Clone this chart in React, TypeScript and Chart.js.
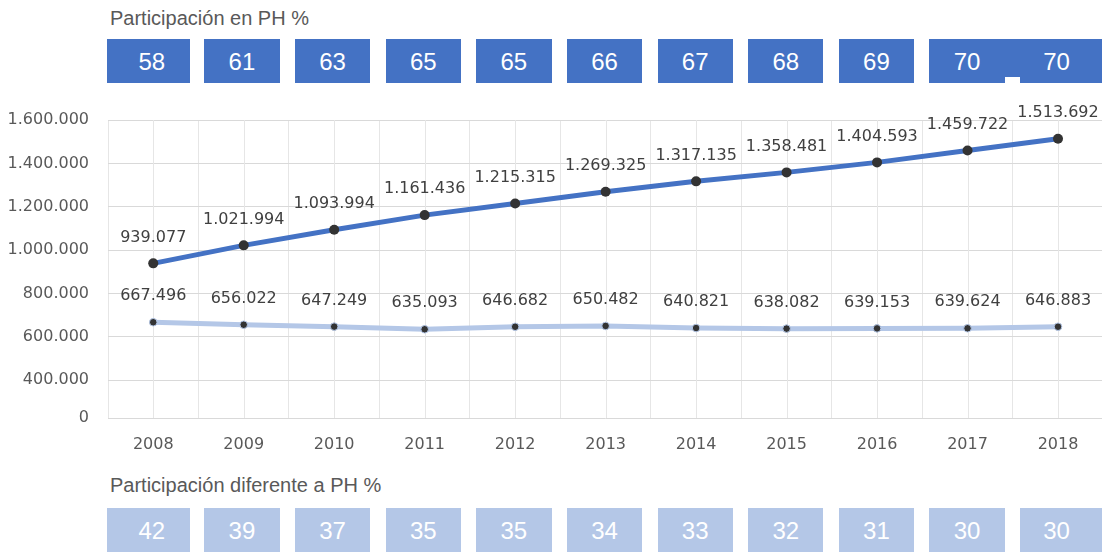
import React, { useEffect, useRef } from 'react';
import { Chart, registerables } from 'chart.js';
Chart.register(...registerables);

const years = ['2008', '2009', '2010', '2011', '2012', '2013', '2014', '2015', '2016', '2017', '2018'];
const phValues = [939077, 1021994, 1093994, 1161436, 1215315, 1269325, 1317135, 1358481, 1404593, 1459722, 1513692];
const otherValues = [667496, 656022, 647249, 635093, 646682, 650482, 640821, 638082, 639153, 639624, 646883];
const phShare = [58, 61, 63, 65, 65, 66, 67, 68, 69, 70, 70];
const otherShare = [42, 39, 37, 35, 35, 34, 33, 32, 31, 30, 30];
const yTickValues = [400000, 600000, 800000, 1000000, 1200000, 1400000, 1600000];
const axisMin = 226000;
const axisMax = 1600000;
const topTitle = 'Participación en PH %';
const bottomTitle = 'Participación diferente a PH %';

const fmt = (n: number) => Math.round(n).toString().replace(/\B(?=(\d{3})+(?!\d))/g, '.');

const labelsPlugin = {
  id: 'valueLabels',
  beforeDatasetsDraw(chart: any) {
    const { ctx, chartArea, scales } = chart;
    ctx.save();
    ctx.strokeStyle = '#e6e6e6';
    ctx.lineWidth = 1;
    years.forEach((_, i) => {
      const x = Math.round(scales.x.getPixelForValue(i)) + 0.5;
      ctx.beginPath();
      ctx.moveTo(x, chartArea.top);
      ctx.lineTo(x, chartArea.bottom);
      ctx.stroke();
    });
    ctx.restore();
  },
  afterDatasetsDraw(chart: any) {
    const { ctx } = chart;
    ctx.save();
    ctx.font = '16px "DejaVu Sans"';
    ctx.fillStyle = '#404040';
    ctx.textAlign = 'center';
    ctx.textBaseline = 'middle';
    chart.data.datasets.forEach((ds: any, di: number) => {
      const meta = chart.getDatasetMeta(di);
      meta.data.forEach((pt: any, i: number) => {
        ctx.fillText(fmt(ds.data[i]), pt.x, pt.y - 26);
      });
    });
    ctx.restore();
  },
};

const boxLeft = (i: number) => (i === 0 ? 106.7 : 204.3 + 90.64 * (i - 1));
const boxWidth = (i: number) => (i === 0 ? 83.3 : i === 10 ? 85 : 75.3);
const boxPadLeft = (i: number) => (i === 0 ? 7 : 0);
const boxPadRight = (i: number) => (i === 10 ? 12 : 0);

function BoxRow({ values, top, color }: { values: number[]; top: number; color: string }) {
  return (
    <>
      {values.map((v, i) => (
        <div
          key={i}
          style={{
            position: 'absolute',
            left: boxLeft(i),
            top,
            width: boxWidth(i),
            height: 44.3,
            background: color,
            color: '#ffffff',
            fontFamily: '"Liberation Sans", Arial, sans-serif',
            fontSize: 24,
            display: 'flex',
            alignItems: 'center',
            justifyContent: 'center',
            paddingTop: 2,
            paddingLeft: boxPadLeft(i),
            paddingRight: boxPadRight(i),
            boxSizing: 'border-box',
          }}
        >
          {v}
        </div>
      ))}
    </>
  );
}

export default function App() {
  const ref = useRef<HTMLCanvasElement>(null);
  useEffect(() => {
    const chart = new Chart(ref.current!, {
      type: 'line',
      data: {
        labels: years,
        datasets: [
          {
            data: phValues,
            borderColor: '#4472C4',
            borderWidth: 5,
            tension: 0,
            pointRadius: 5,
            pointBackgroundColor: '#333333',
            pointBorderColor: '#333333',
            pointBorderWidth: 0,
          },
          {
            data: otherValues,
            borderColor: '#B4C7E7',
            borderWidth: 5,
            tension: 0,
            pointRadius: 3.8,
            pointBackgroundColor: '#333333',
            pointBorderColor: '#B4C7E7',
            pointBorderWidth: 1,
          },
        ],
      },
      options: {
        responsive: false,
        animation: false,
        devicePixelRatio: 1,
        layout: { padding: { top: 20, right: 6.75, left: 0, bottom: 0 } },
        plugins: { legend: { display: false }, tooltip: { enabled: false } },
        scales: {
          x: {
            offset: true,
            grid: { offset: true, color: '#e6e6e6', drawTicks: false },
            border: { display: false },
            ticks: {
              color: '#595959',
              font: { family: 'DejaVu Sans', size: 16 },
              padding: 17,
              maxRotation: 0,
            },
            afterFit: (s: any) => {
              s.height = 42;
              s.paddingLeft = 0;
              s.paddingRight = 0;
            },
          },
          y: {
            min: axisMin,
            max: axisMax,
            grid: { color: '#d9d9d9', drawTicks: false },
            border: { display: false },
            ticks: {
              color: '#595959',
              font: { family: 'DejaVu Sans', size: 16 },
              padding: 19,
              callback: (v: any) => (v === axisMin ? '0' : fmt(Number(v))),
            },
            afterBuildTicks: (s: any) => {
              s.ticks = [axisMin, ...yTickValues].map((v) => ({ value: v }));
            },
            afterFit: (s: any) => {
              s.width = 108;
              s.paddingTop = 0;
              s.paddingBottom = 0;
            },
          },
        },
      },
      plugins: [labelsPlugin],
    } as any);
    return () => chart.destroy();
  }, []);

  return (
    <div
      style={{
        position: 'fixed',
        left: 0,
        top: 0,
        width: 1102,
        height: 552,
        overflow: 'hidden',
        background: '#ffffff',
      }}
    >
      <div
        style={{
          position: 'absolute',
          left: 110,
          top: 6.5,
          fontFamily: '"Liberation Sans", Arial, sans-serif',
          fontSize: 20,
          color: '#595959',
          whiteSpace: 'nowrap',
        }}
      >
        {topTitle}
      </div>
      <BoxRow values={phShare} top={39} color="#4472C4" />
      <div style={{ position: 'absolute', left: 1005, top: 39, width: 16.5, height: 37.7, background: '#4472C4' }} />
      <canvas ref={ref} width={1110} height={360} style={{ position: 'absolute', left: 0, top: 100, width: 1110, height: 360 }} />
      <div
        style={{
          position: 'absolute',
          left: 110,
          top: 474,
          fontFamily: '"Liberation Sans", Arial, sans-serif',
          fontSize: 20,
          color: '#595959',
          whiteSpace: 'nowrap',
        }}
      >
        {bottomTitle}
      </div>
      <BoxRow values={otherShare} top={507.7} color="#B4C7E7" />
    </div>
  );
}
